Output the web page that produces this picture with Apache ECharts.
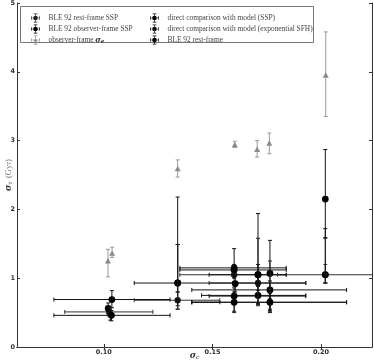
<!DOCTYPE html>
<html><head><meta charset="utf-8">
<script src="https://cdn.jsdelivr.net/npm/echarts@6/dist/echarts.min.js"></script>
<style>html,body{margin:0;padding:0;background:#fff}#c{width:374px;height:363px}</style>
</head><body><div id="c"></div>
<script>
// ---- data ----
const seriesNames = [
  'BLE 92 rest-frame SSP',
  'BLE 92 observer-frame SSP',
  'observer-frame σe',
  'direct comparison with model (SSP)',
  'direct comparison with model (exponential SFH)',
  'BLE 92 rest-frame'
];
const xTicks = [0.10, 0.15, 0.20];
const yTicks = [0, 1, 2, 3, 4, 5];
// rows: [sigma_c, sigma_tau, sigma_c low, sigma_c high, sigma_tau low, sigma_tau high]
const bleRestSSP = [
  [0.1025, 0.51, 0.082, 0.1226, 0.44, 0.58],
  [0.1340, 0.68, 0.114, 0.1534, 0.55, 0.80],
  [0.1600, 1.05, 0.135, 0.184, 0.95, 1.17],
  [0.1710, 0.93, 0.1485, 0.193, 0.82, 1.05],
  [0.1765, 0.65, 0.1405, 0.2118, 0.53, 0.78],
  [0.2020, 1.05, 0.180, 0.26, 0.93, 1.20]
];
const bleObsSSP = [
  [0.1037, 0.69, 0.077, 0.1305, 0.57, 0.82],
  [0.1340, 0.93, 0.114, 0.193, 0.80, 1.49],
  [0.1600, 1.15, 0.135, 0.184, 1.02, 1.20],
  [0.1710, 0.75, 0.145, 0.193, 0.63, 0.88],
  [0.1765, 0.83, 0.1405, 0.2118, 0.70, 0.96],
  [0.2020, 2.15, null, null, 1.59, 2.87]
];
const obsSigmaE = [
  [0.1019, 1.25, null, null, 1.02, 1.42],
  [0.1038, 1.36, null, null, 1.30, 1.45],
  [0.1340, 2.59, null, null, 2.47, 2.72],
  [0.1603, 2.94, null, null, 2.90, 2.99],
  [0.1706, 2.87, null, null, 2.76, 3.00],
  [0.1762, 2.96, null, null, 2.81, 3.11],
  [0.2022, 3.95, null, null, 3.35, 4.58]
];
const directSSP = [
  [0.1020, 0.56, null, null, 0.48, 0.64],
  [0.1340, 0.93, null, null, 0.60, 2.18],
  [0.1605, 0.92, null, null, 0.80, 1.05],
  [0.1710, 1.05, null, null, 0.62, 1.94],
  [0.1765, 1.07, null, null, 0.55, 1.55],
  [0.2020, 1.05, null, null, 0.93, 1.72]
];
const directExp = [
  [0.1030, 0.48, null, null, 0.39, 0.57],
  [0.1340, 0.68, null, null, 0.55, 1.49],
  [0.1600, 0.65, null, null, 0.50, 0.80],
  [0.1710, 0.93, null, null, 0.60, 1.58],
  [0.1765, 0.65, null, null, 0.52, 1.25],
  [0.2020, 1.05, null, null, 0.93, 1.58]
];
const bleRest = [
  [0.1035, 0.46, 0.077, 0.1305, 0.38, 0.53],
  [0.1600, 1.12, 0.135, 0.184, 1.00, 1.43],
  [0.1600, 0.74, 0.1485, 0.193, 0.62, 0.86],
  [0.1600, 0.65, 0.1405, 0.2118, 0.52, 0.78],
  [0.1710, 1.05, 0.1485, 0.184, 0.90, 1.20],
  [0.1765, 0.65, 0.1405, 0.1534, 0.50, 0.80]
];

// ---- rendering ----
const styles = [
  {line: '#333', fill: '#222', shape: 'circle', r: 3.2},
  {line: '#111', fill: '#000', shape: 'circle', r: 3.4},
  {line: '#999', fill: '#8a8a8a', shape: 'triangle', r: 3},
  {line: '#111', fill: '#000', shape: 'circle', r: 3.4},
  {line: '#222', fill: '#111', shape: 'circle', r: 2.4},
  {line: '#111', fill: '#000', shape: 'circle', r: 3.4}
];
const allData = [bleRestSSP, bleObsSSP, obsSigmaE, directSSP, directExp, bleRest];

function errRenderer(st) {
  return function (params, api) {
    const v = [0, 1, 2, 3, 4, 5].map(i => api.value(i));
    const c = api.coord([v[0], v[1]]);
    const ch = [];
    const ls = {stroke: st.line, lineWidth: 1};
    const cap = 2;
    if (isFinite(v[2]) && isFinite(v[3])) {
      const a = api.coord([v[2], v[1]]), b = api.coord([v[3], v[1]]);
      ch.push({type: 'line', shape: {x1: a[0], y1: a[1], x2: b[0], y2: b[1]}, style: ls});
      ch.push({type: 'line', shape: {x1: a[0], y1: a[1] - cap, x2: a[0], y2: a[1] + cap}, style: ls});
      ch.push({type: 'line', shape: {x1: b[0], y1: b[1] - cap, x2: b[0], y2: b[1] + cap}, style: ls});
    }
    if (isFinite(v[4]) && isFinite(v[5])) {
      const a = api.coord([v[0], v[4]]), b = api.coord([v[0], v[5]]);
      ch.push({type: 'line', shape: {x1: a[0], y1: a[1], x2: b[0], y2: b[1]}, style: ls});
      ch.push({type: 'line', shape: {x1: a[0] - cap, y1: a[1], x2: a[0] + cap, y2: a[1]}, style: ls});
      ch.push({type: 'line', shape: {x1: b[0] - cap, y1: b[1], x2: b[0] + cap, y2: b[1]}, style: ls});
    }
    if (st.shape === 'circle') {
      ch.push({type: 'circle', shape: {cx: c[0], cy: c[1], r: st.r}, style: {fill: st.fill}});
    } else {
      const r = st.r;
      ch.push({type: 'polygon', shape: {points: [[c[0], c[1] - r], [c[0] + r, c[1] + r * 0.8], [c[0] - r, c[1] + r * 0.8]]}, style: {fill: st.fill}});
    }
    return {type: 'group', children: ch};
  };
}

const iconCircle = 'path://M2 9.4h16v1.2H2z M9.4 2h1.2v16H9.4z M1.4 6.5h1.2v7H1.4z M17.4 6.5h1.2v7h-1.2z M6.5 1.4h7v1.2h-7z M6.5 17.4h7v1.2h-7z M5.6 10a4.4 4.4 0 1 1 8.8 0a4.4 4.4 0 1 1 -8.8 0z';
const iconTri = 'path://M2 9.4h16v1.2H2z M9.4 2h1.2v16H9.4z M1.4 6.5h1.2v7H1.4z M17.4 6.5h1.2v7h-1.2z M6.5 1.4h7v1.2h-7z M6.5 17.4h7v1.2h-7z M10 6L14 13H6z';

const series = allData.map((d, i) => ({
  name: seriesNames[i],
  type: 'custom',
  clip: true,
  renderItem: errRenderer(styles[i]),
  itemStyle: {color: styles[i].fill},
  encode: {x: 0, y: 1},
  data: d.map(r => r.map(v => v === null ? '-' : v))
}));

const legendText = {
  fontFamily: 'Liberation Serif', fontSize: 7.4, color: '#444', padding: [0, 0, 0, 3],
  rich: {
    t: {fontFamily: 'Liberation Serif', fontSize: 7.4, color: '#444'},
    s: {fontFamily: 'DejaVu Serif', fontStyle: 'italic', fontWeight: 'bold', fontSize: 7.5, color: '#333'},
    b: {fontFamily: 'DejaVu Serif', fontStyle: 'italic', fontWeight: 'bold', fontSize: 5.5, color: '#333', padding: [3, 0, 0, 0]}
  }
};
const legendFmt = name => name === seriesNames[2] ? '{t|observer-frame }{s|σ}{b|e}' : name;
const nameRich = {
  s: {fontFamily: 'DejaVu Serif', fontStyle: 'italic', fontWeight: 'bold', fontSize: 8.5, color: '#333'},
  b: {fontFamily: 'DejaVu Serif', fontStyle: 'italic', fontSize: 6, color: '#333', padding: [3, 0, 0, 0]},
  g: {fontFamily: 'Liberation Serif', fontSize: 8.5, color: '#777'}
};
const chart = echarts.init(document.getElementById('c'), null, {renderer: 'canvas'});
chart.setOption({
  animation: false,
  backgroundColor: '#fff',
  grid: {left: 17, right: 2, top: 3, bottom: 16, containLabel: false, outerBoundsMode: 'none'},
  xAxis: [{
    type: 'value', min: 0.06, max: 0.2235,
    splitLine: {show: false},
    axisLine: {lineStyle: {color: '#333', width: 1}},
    axisTick: {inside: true, length: 3, customValues: xTicks, lineStyle: {color: '#333'}},
    axisLabel: {customValues: xTicks, formatter: v => v.toFixed(2), fontFamily: 'DejaVu Sans', fontSize: 6.5, fontWeight: 'bold', color: '#333', margin: 2},
    name: '{s|σ}{b|c}', nameLocation: 'middle', nameGap: 4, nameMoveOverlap: false,
    nameTextStyle: {rich: nameRich}
  }, {
    type: 'value', position: 'top', min: 0.06, max: 0.2235,
    splitLine: {show: false},
    axisLine: {lineStyle: {color: '#333', width: 1}},
    axisTick: {inside: true, length: 3, customValues: xTicks, lineStyle: {color: '#333'}},
    axisLabel: {show: false}
  }],
  yAxis: [{
    type: 'value', min: 0, max: 5, interval: 1,
    splitLine: {show: false},
    axisLine: {show: true, lineStyle: {color: '#333', width: 1}},
    axisTick: {show: true, inside: true, length: 3, lineStyle: {color: '#333'}},
    axisLabel: {fontFamily: 'DejaVu Sans', fontSize: 6.5, fontWeight: 'bold', color: '#333', margin: 2},
    name: '{s|σ}{b|τ} {g|(Gyr)}', nameLocation: 'middle', nameGap: 2, nameRotate: 90, nameMoveOverlap: false,
    nameTextStyle: {rich: nameRich}
  }, {
    type: 'value', position: 'right', min: 0, max: 5, interval: 1,
    splitLine: {show: false},
    axisLine: {show: true, lineStyle: {color: '#333', width: 1}},
    axisTick: {show: true, inside: true, length: 3, lineStyle: {color: '#333'}},
    axisLabel: {show: false}
  }],
  legend: [{
    orient: 'vertical', left: 26, top: 8.5, itemWidth: 10, itemHeight: 9, itemGap: 2,
    textStyle: legendText, formatter: legendFmt,
    data: [
      {name: seriesNames[0], icon: iconCircle},
      {name: seriesNames[1], icon: iconCircle},
      {name: seriesNames[2], icon: iconTri}
    ]
  }, {
    orient: 'vertical', left: 145, top: 8.5, itemWidth: 10, itemHeight: 9, itemGap: 2,
    textStyle: legendText, formatter: legendFmt,
    data: [
      {name: seriesNames[3], icon: iconCircle},
      {name: seriesNames[4], icon: iconCircle},
      {name: seriesNames[5], icon: iconCircle}
    ]
  }],
  graphic: [{
    type: 'rect', left: 20, top: 6, z: -1,
    shape: {width: 293, height: 36},
    style: {fill: '#fff', stroke: '#777', lineWidth: 1}
  }],
  series: series
});
</script>
</body></html>
